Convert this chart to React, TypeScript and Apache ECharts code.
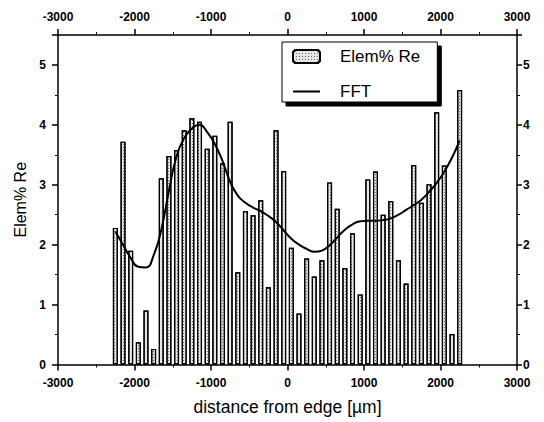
import React, { useEffect, useRef } from "react";
import * as echarts from "echarts";

const positions = [
  -2250, -2150, -2050, -1950, -1850, -1750, -1650, -1550, -1450, -1350,
  -1250, -1150, -1050, -950, -850, -750, -650, -550, -450, -350,
  -250, -150, -50, 50, 150, 250, 350, 450, 550, 650,
  750, 850, 950, 1050, 1150, 1250, 1350, 1450, 1550, 1650,
  1750, 1850, 1950, 2050, 2150, 2250,
];

const reValues = [
  2.28, 3.72, 1.9, 0.37, 0.9, 0.26, 3.11, 3.48, 3.58, 3.91,
  4.11, 4.05, 3.6, 3.82, 3.36, 4.05, 1.54, 2.56, 2.49, 2.74,
  1.29, 3.91, 3.23, 1.95, 0.85, 1.77, 1.47, 1.74, 3.04, 2.6,
  1.61, 2.19, 1.17, 3.09, 3.22, 2.5, 2.73, 1.74, 1.35, 3.33,
  2.7, 3.01, 4.21, 3.32, 0.51, 4.58,
];

const fftValues = [
  2.22, 2.0, 1.78, 1.63, 1.62, 1.82, 2.25, 2.9, 3.48, 3.78,
  3.94, 4.0, 3.88, 3.68, 3.4, 3.05, 2.82, 2.7, 2.62, 2.56,
  2.48, 2.38, 2.24, 2.1, 2.0, 1.93, 1.88, 1.9, 1.99, 2.12,
  2.25, 2.34, 2.39, 2.4, 2.4, 2.41, 2.44, 2.5, 2.58, 2.66,
  2.75, 2.88, 3.03, 3.22, 3.45, 3.74,
];

const xTicks = [-3000, -2000, -1000, 0, 1000, 2000, 3000];
const yTicks = [0, 1, 2, 3, 4, 5];

const FONT = "'Liberation Sans', Arial, sans-serif";

function xAxisDef(position: "bottom" | "top", withName: boolean) {
  return {
    type: "value",
    position,
    min: xTicks[0],
    max: xTicks[xTicks.length - 1],
    interval: xTicks[1] - xTicks[0],
    name: withName ? "distance from edge [µm]" : "",
    nameLocation: "middle",
    nameGap: 33,
    nameTextStyle: { fontSize: 17.5, color: "#000", fontFamily: FONT },
    axisLine: { show: true, onZero: false, lineStyle: { color: "#000", width: 1.5 } },
    axisTick: { show: true, inside: false, length: 6, lineStyle: { color: "#000", width: 1.5 } },
    minorTick: { show: true, splitNumber: 2, length: 3, lineStyle: { color: "#000", width: 1 } },
    axisLabel: {
      fontSize: 12,
      fontWeight: "bold",
      color: "#000",
      margin: 12,
      fontFamily: FONT,
      formatter: (v: number) => String(v),
    },
    splitLine: { show: false },
    minorSplitLine: { show: false },
  };
}

function yAxisDef(position: "left" | "right", withName: boolean) {
  return {
    type: "value",
    position,
    min: yTicks[0],
    max: 5.5,
    interval: 1,
    name: withName ? "Elem% Re" : "",
    nameLocation: "middle",
    nameGap: 25,
    nameRotate: 90,
    nameTextStyle: { fontSize: 16, color: "#000", fontFamily: FONT },
    axisLine: { show: true, onZero: false, lineStyle: { color: "#000", width: 1.5 } },
    axisTick: { show: true, inside: false, length: position === "left" ? 6 : 5, lineStyle: { color: "#000", width: 1.5 } },
    minorTick: { show: true, splitNumber: 2, length: 3, lineStyle: { color: "#000", width: 1 } },
    axisLabel: {
      fontSize: 12,
      fontWeight: "bold",
      color: "#000",
      margin: position === "left" ? 12 : 6,
      fontFamily: FONT,
      formatter: (v: number) => (yTicks.indexOf(v) >= 0 ? String(v) : ""),
    },
    splitLine: { show: false },
    minorSplitLine: { show: false },
  };
}

export default function App() {
  const ref = useRef<HTMLDivElement>(null);
  useEffect(() => {
    if (!ref.current) return;
    const chart = echarts.init(ref.current, null, { renderer: "svg" });
    const barData = positions.map((p, i) => [p, reValues[i]]);
    const lineData = positions.map((p, i) => [p, fftValues[i]]);
    chart.setOption({
      animation: false,
      backgroundColor: "#fff",
      textStyle: { fontFamily: FONT, color: "#000" },
      grid: { left: 58, right: 27, top: 35, bottom: 57.5 },
      legend: {
        orient: "vertical",
        left: 282,
        top: 42,
        padding: [6, 17, 2, 10],
        itemGap: 18,
        itemWidth: 27,
        itemHeight: 13,
        backgroundColor: "#fff",
        borderColor: "#000",
        borderWidth: 1,
        shadowColor: "#000",
        shadowBlur: 0,
        shadowOffsetX: 4,
        shadowOffsetY: 4,
        data: [
          { name: "Elem% Re" },
          { name: "FFT", icon: "path://M0,0L27,0L27,2L0,2Z" },
        ],
        formatter: "{a|{name}}",
        textStyle: {
          color: "#000",
          fontSize: 17,
          fontFamily: FONT,
          rich: { a: { fontSize: 17, fontFamily: FONT, color: "#000", padding: [0, 0, 0, 15], lineHeight: 20 } },
        },
      },
      xAxis: [xAxisDef("bottom", true), xAxisDef("top", false)],
      yAxis: [yAxisDef("left", true), yAxisDef("right", false)],
      series: [
        {
          name: "Elem% Re",
          type: "bar",
          xAxisIndex: 0,
          yAxisIndex: 0,
          barWidth: 5,
          data: barData,
          itemStyle: {
            color: "#e6e6e6",
            borderColor: "#000",
            borderWidth: 1.2,
            decal: {
              symbol: "rect",
              symbolSize: 1,
              color: "rgba(0,0,0,0.55)",
              dashArrayX: [1, 2],
              dashArrayY: [1, 2],
              rotation: 0,
            },
          },
        },
        {
          name: "FFT",
          type: "line",
          xAxisIndex: 0,
          yAxisIndex: 0,
          smooth: true,
          showSymbol: false,
          symbol: "none",
          data: lineData,
          lineStyle: { color: "#000", width: 2 },
          itemStyle: { color: "#000" },
          z: 5,
        },
      ],
    });
    return () => chart.dispose();
  }, []);
  return (
    <div
      ref={ref}
      style={{ position: "fixed", left: 0, top: 0, width: 544, height: 422, background: "#fff" }}
    />
  );
}
